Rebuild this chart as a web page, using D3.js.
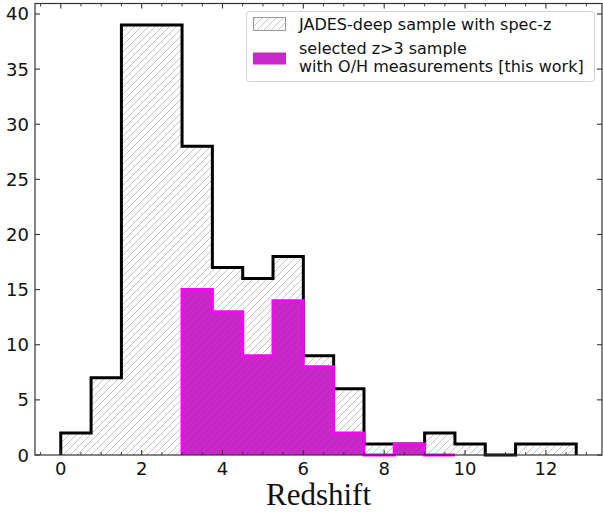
<!DOCTYPE html>
<html>
<head>
<meta charset="utf-8">
<script src="https://cdn.jsdelivr.net/npm/d3@7"></script>
<style>
  html, body { margin: 0; padding: 0; background: #fff; }
  svg { display: block; }
</style>
</head>
<body>
<svg id="chart" width="603" height="512"></svg>
<script>
// ---- data ----
const jadesEdges = [0, 0.75, 1.5, 2.25, 3.0, 3.75, 4.5, 5.25, 6.0, 6.75, 7.5, 8.25, 9.0, 9.75, 10.5, 11.25, 12.0, 12.75];
const jadesCounts = [2, 7, 39, 39, 28, 17, 16, 18, 9, 6, 1, 1, 2, 1, 0, 1, 1];
const selectedEdges = [3.0, 3.75, 4.5, 5.25, 6.0, 6.75, 7.5, 8.25, 9.0, 9.75];
const selectedCounts = [15, 13, 9, 14, 8, 2, 0, 1, 0];
const xMajorTicks = [0, 2, 4, 6, 8, 10, 12];
const xMinorTicks = [-0.5, 0.5, 1, 1.5, 2.5, 3, 3.5, 4.5, 5, 5.5, 6.5, 7, 7.5, 8.5, 9, 9.5, 10.5, 11, 11.5, 12.5, 13];
const yMajorTicks = [0, 5, 10, 15, 20, 25, 30, 35, 40];
const legendLabels = ["JADES-deep sample with spec-z", ["selected z>3 sample", "with O/H measurements [this work]"]];
const xLabel = "Redshift";

// ---- layout ----
const L = 35, R = 602, T = 3.5, B = 455;
const svg = d3.select("#chart");
const x = d3.scaleLinear().domain([-0.6375, 13.3875]).range([L, R]);
const y = d3.scaleLinear().domain([0, 40.95]).range([B, T]);

const defs = svg.append("defs");
const pat = defs.append("pattern")
  .attr("id", "hatch").attr("patternUnits", "userSpaceOnUse")
  .attr("width", 7).attr("height", 7);
pat.append("path").attr("d", "M-1,8 L8,-1 M-1,1 L1,-1 M6,8 L8,6")
  .attr("stroke", "#bdbdbd").attr("stroke-width", 0.9);
defs.append("clipPath").attr("id", "clip").append("rect")
  .attr("x", L).attr("y", T).attr("width", R - L).attr("height", B - T + 2);

function stepPoints(edges, counts) {
  const pts = [[edges[0], 0]];
  counts.forEach((c, i) => { pts.push([edges[i], c]); pts.push([edges[i + 1], c]); });
  pts.push([edges[edges.length - 1], 0]);
  return pts;
}
const line = d3.line().x(d => x(d[0])).y(d => y(d[1]));

const g = svg.append("g").attr("clip-path", "url(#clip)");

// JADES hatched histogram
const jp = stepPoints(jadesEdges, jadesCounts);
g.append("path").attr("d", line(jp) + "Z").attr("fill", "url(#hatch)").attr("stroke", "none");
g.append("path").attr("d", line(jp)).attr("fill", "none").attr("stroke", "#000")
  .attr("stroke-width", 3).attr("stroke-linejoin", "miter");

// Selected histogram
const sp = stepPoints(selectedEdges, selectedCounts);
g.append("path").attr("d", line(sp) + "Z").attr("fill", "#bd05bd").attr("fill-opacity", 0.85).attr("stroke", "none");
g.append("path").attr("d", line(sp)).attr("fill", "none").attr("stroke", "#ff00ff")
  .attr("stroke-width", 3).attr("stroke-linejoin", "miter");

// ---- axes ----
const axCol = "#333";
const tickFont = "DejaVu Sans, sans-serif";
const axg = svg.append("g");
axg.append("rect").attr("x", L).attr("y", T).attr("width", R - L).attr("height", B - T)
  .attr("fill", "none").attr("stroke", axCol).attr("stroke-width", 1.2);

xMajorTicks.forEach(v => {
  const px = x(v);
  axg.append("line").attr("x1", px).attr("x2", px).attr("y1", B).attr("y2", B - 5).attr("stroke", axCol).attr("stroke-width", 1.1);
  axg.append("line").attr("x1", px).attr("x2", px).attr("y1", T).attr("y2", T + 5).attr("stroke", axCol).attr("stroke-width", 1.1);
  axg.append("text").attr("x", px).attr("y", B + 20).attr("text-anchor", "middle")
    .attr("font-family", tickFont).attr("font-size", 18).attr("fill", "#111").text(v);
});
xMinorTicks.forEach(v => {
  const px = x(v);
  axg.append("line").attr("x1", px).attr("x2", px).attr("y1", B).attr("y2", B - 3).attr("stroke", axCol).attr("stroke-width", 0.9);
  axg.append("line").attr("x1", px).attr("x2", px).attr("y1", T).attr("y2", T + 3).attr("stroke", axCol).attr("stroke-width", 0.9);
});
yMajorTicks.forEach(v => {
  const py = y(v);
  axg.append("line").attr("x1", L).attr("x2", L + 5).attr("y1", py).attr("y2", py).attr("stroke", axCol).attr("stroke-width", 1.1);
  axg.append("line").attr("x1", R).attr("x2", R - 5).attr("y1", py).attr("y2", py).attr("stroke", axCol).attr("stroke-width", 1.1);
  axg.append("text").attr("x", L - 6).attr("y", py + 6.5).attr("text-anchor", "end")
    .attr("font-family", tickFont).attr("font-size", 18).attr("fill", "#111").text(v);
});

svg.append("text").attr("x", (L + R) / 2).attr("y", 505).attr("text-anchor", "middle")
  .attr("font-family", "Liberation Serif, serif").attr("font-size", 31).attr("fill", "#111").text(xLabel);

// ---- legend ----
const lg = svg.append("g");
lg.append("rect").attr("x", 246.5).attr("y", 11.5).attr("width", 348).attr("height", 70).attr("rx", 3)
  .attr("fill", "#fff").attr("fill-opacity", 0.85).attr("stroke", "#d0d0d0").attr("stroke-width", 1);
lg.append("rect").attr("x", 253.5).attr("y", 17.5).attr("width", 32).attr("height", 13)
  .attr("fill", "url(#hatch)").attr("stroke", "#999").attr("stroke-width", 1);
lg.append("rect").attr("x", 253).attr("y", 52.5).attr("width", 33).attr("height", 12)
  .attr("fill", "#c72ac7");
lg.append("text").attr("x", 299).attr("y", 30).attr("font-family", tickFont).attr("font-size", 16)
  .attr("fill", "#111").text(legendLabels[0]);
const t2 = lg.append("text").attr("font-family", tickFont).attr("font-size", 16).attr("fill", "#111");
t2.append("tspan").attr("x", 299).attr("y", 54).text(legendLabels[1][0]);
t2.append("tspan").attr("x", 299).attr("y", 71.5).text(legendLabels[1][1]);
</script>
</body>
</html>
